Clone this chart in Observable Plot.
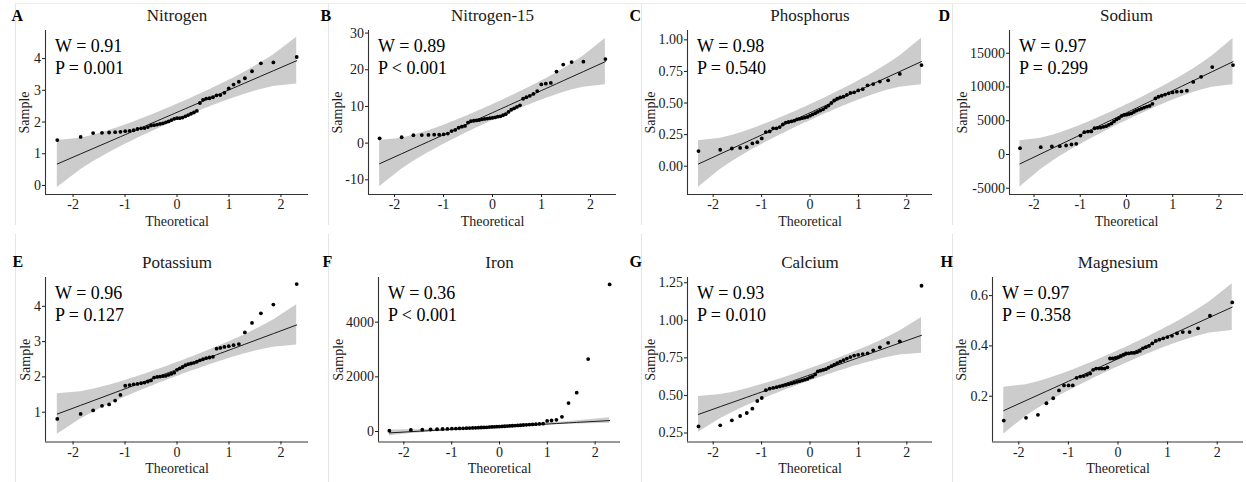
<!DOCTYPE html>
<html>
<head>
<meta charset="utf-8">
<script src="https://cdn.jsdelivr.net/npm/d3@7"></script>
<script src="https://cdn.jsdelivr.net/npm/@observablehq/plot@0.6"></script>
<style>
  html, body { margin: 0; padding: 0; background: #fff; }
  #wrap { position: relative; width: 1246px; height: 482px; overflow: hidden; font-family: "Liberation Serif", "Times New Roman", serif; }
  .border { position: absolute; border-left: 1px solid #e6e6e6; }
  .hborder { position: absolute; border-top: 1px solid #ececec; }
  #wrap svg { position: absolute; }
</style>
</head>
<body>
<div id="wrap"></div>
<script>
// ---------------- data ----------------
const letters = ["A", "B", "C", "D", "E", "F", "G", "H"];
const elements = ["Nitrogen", "Nitrogen-15", "Phosphorus", "Sodium", "Potassium", "Iron", "Calcium", "Magnesium"];
const wStats = ["0.91", "0.89", "0.98", "0.97", "0.96", "0.36", "0.93", "0.97"];
const pStats = ["= 0.001", "< 0.001", "= 0.540", "= 0.299", "= 0.127", "< 0.001", "= 0.010", "= 0.358"];
const yTicks = [
  [0, 1, 2, 3, 4],
  [-10, 0, 10, 20, 30],
  [0, 0.25, 0.5, 0.75, 1],
  [-5000, 0, 5000, 10000, 15000],
  [1, 2, 3, 4],
  [0, 2000, 4000],
  [0.25, 0.5, 0.75, 1, 1.25],
  [0.2, 0.4, 0.6]
];
const xTicks = [-2, -1, 0, 1, 2];

// theoretical normal quantiles (n = 47)
const theoretical = [-2.303,-1.854,-1.614,-1.443,-1.306,-1.190,-1.088,-0.996,-0.912,-0.834,-0.761,-0.691,-0.625,-0.561,-0.500,-0.441,-0.382,-0.326,-0.270,-0.215,-0.161,-0.107,-0.053,0,0.053,0.107,0.161,0.215,0.270,0.326,0.382,0.441,0.500,0.561,0.625,0.691,0.761,0.834,0.912,0.996,1.088,1.190,1.306,1.443,1.614,1.854,2.303];
// confidence band half-width, in units of the line slope
const bandFactor = [1.043,0.703,0.592,0.533,0.495,0.468,0.447,0.431,0.418,0.408,0.399,0.391,0.385,0.380,0.375,0.371,0.368,0.365,0.363,0.361,0.360,0.359,0.359,0.358,0.359,0.359,0.360,0.361,0.363,0.365,0.368,0.371,0.375,0.380,0.385,0.391,0.399,0.408,0.418,0.431,0.447,0.468,0.495,0.533,0.592,0.703,1.043];

const nitrogen = [1.43,1.53,1.65,1.66,1.67,1.68,1.69,1.71,1.72,1.74,1.78,1.80,1.81,1.84,1.89,1.90,1.92,1.94,1.96,1.99,2.02,2.06,2.10,2.12,2.12,2.14,2.18,2.22,2.26,2.30,2.35,2.60,2.70,2.74,2.75,2.78,2.84,2.85,2.92,3.06,3.18,3.27,3.38,3.60,3.85,3.88,4.05];
const nitrogen15 = [1.3,1.6,2.15,2.2,2.25,2.3,2.3,2.4,2.6,3.3,3.6,4.2,4.5,4.7,5.6,6.0,6.1,6.2,6.3,6.5,6.6,6.7,6.8,6.9,7.0,7.2,7.3,7.6,7.9,8.5,9.1,9.5,9.9,10.3,12.1,12.5,12.9,13.4,14.2,16.0,16.2,16.4,19.5,21.4,22.1,22.2,22.9];
const phosphorus = [0.12,0.13,0.14,0.145,0.15,0.18,0.19,0.22,0.27,0.275,0.30,0.30,0.31,0.33,0.345,0.35,0.355,0.36,0.37,0.375,0.38,0.385,0.39,0.40,0.41,0.42,0.43,0.44,0.45,0.465,0.48,0.50,0.52,0.535,0.545,0.55,0.565,0.58,0.585,0.60,0.61,0.64,0.65,0.67,0.68,0.73,0.80];
const sodium = [936,1084,1182,1232,1330,1478,1576,2808,3300,3400,3420,3890,3950,4000,4100,4200,4400,4600,4900,5200,5400,5700,5850,5900,6000,6100,6300,6500,6650,6800,6950,7100,7200,7500,8300,8550,8700,8870,9060,9200,9300,9350,9460,10750,11500,12950,13250];
const potassium = [0.81,0.95,1.05,1.18,1.22,1.33,1.49,1.75,1.77,1.79,1.80,1.82,1.84,1.87,1.90,1.98,2.00,2.01,2.02,2.03,2.06,2.09,2.12,2.20,2.24,2.28,2.33,2.36,2.38,2.40,2.43,2.47,2.50,2.53,2.55,2.57,2.80,2.82,2.85,2.87,2.90,2.93,3.26,3.53,3.80,4.05,4.63];
const iron = [32,58,66,74,83,91,96,102,108,111,117,121,126,131,134,139,146,149,154,161,166,170,176,181,186,192,198,204,211,216,223,229,238,244,252,259,268,279,287,388,402,428,536,1040,1420,2650,5380];
const calcium = [0.294,0.301,0.334,0.363,0.383,0.412,0.463,0.483,0.535,0.545,0.55,0.555,0.56,0.565,0.57,0.575,0.58,0.585,0.59,0.595,0.60,0.605,0.61,0.62,0.625,0.64,0.66,0.665,0.67,0.675,0.685,0.695,0.705,0.715,0.725,0.735,0.745,0.755,0.765,0.77,0.775,0.78,0.80,0.82,0.85,0.86,1.23];
const magnesium = [0.103,0.114,0.126,0.172,0.192,0.223,0.243,0.243,0.243,0.273,0.278,0.28,0.285,0.29,0.305,0.31,0.31,0.31,0.31,0.315,0.35,0.35,0.352,0.355,0.36,0.365,0.37,0.37,0.372,0.372,0.375,0.38,0.39,0.395,0.40,0.41,0.42,0.425,0.43,0.435,0.44,0.45,0.455,0.455,0.47,0.52,0.573];
const samples = [nitrogen, nitrogen15, phosphorus, sodium, potassium, iron, calcium, magnesium];

// reference line (qqline)
const lineIntercept = [2.305, 8.3, 0.423, 6180, 2.21, 175, 0.637, 0.3485];
const lineSlope = [0.707, 6.04, 0.176, 3287, 0.548, 98, 0.1143, 0.0893];

// ---------------- layout ----------------
const xDomain = [-2.53, 2.53];
const layout = [
  {left: 0,   top: 0,   width: 312, height: 240, axisX: 45,   rightX: 308,  plotTop: 30,  plotBottom: 194,   yDomain: [-0.285, 4.885], decimals: 0, sampleOff: 21, letterX: 11,  letterBase: 20},
  {left: 312, top: 0,   width: 310, height: 240, axisX: 368,  rightX: 616,  plotTop: 30,  plotBottom: 194,   yDomain: [-14, 30.7],     decimals: 0, sampleOff: 31, letterX: 320, letterBase: 20},
  {left: 622, top: 0,   width: 312, height: 240, axisX: 687,  rightX: 932,  plotTop: 30,  plotBottom: 194,   yDomain: [-0.224, 1.074], decimals: 2, sampleOff: 37, letterX: 629, letterBase: 20},
  {left: 934, top: 0,   width: 312, height: 240, axisX: 1009, rightX: 1243, plotTop: 30,  plotBottom: 194,   yDomain: [-5930, 18370],  decimals: 0, sampleOff: 47, letterX: 938, letterBase: 20},
  {left: 0,   top: 240, width: 312, height: 242, axisX: 45,   rightX: 308,  plotTop: 277, plotBottom: 441.5, yDomain: [0.156, 4.816],  decimals: 0, sampleOff: 20, letterX: 12,  letterBase: 266.5},
  {left: 312, top: 240, width: 310, height: 242, axisX: 378,  rightX: 620,  plotTop: 277, plotBottom: 441.5, yDomain: [-384, 5635],    decimals: 0, sampleOff: 40, letterX: 322, letterBase: 266.5},
  {left: 622, top: 240, width: 312, height: 242, axisX: 687,  rightX: 932,  plotTop: 277, plotBottom: 441.5, yDomain: [0.19, 1.285],   decimals: 2, sampleOff: 37, letterX: 629, letterBase: 266.5},
  {left: 934, top: 240, width: 312, height: 242, axisX: 992,  rightX: 1243, plotTop: 277, plotBottom: 441.5, yDomain: [0.018, 0.672],  decimals: 1, sampleOff: 31, letterX: 940, letterBase: 266.5}
];

const wrap = document.getElementById("wrap");

// faint panel borders
[15, 328, 641, 952].forEach(x => {
  const a = document.createElement("div");
  a.className = "border";
  a.style.left = x + "px"; a.style.top = "3px"; a.style.height = "222px";
  wrap.appendChild(a);
  const b = document.createElement("div");
  b.className = "border";
  b.style.left = x + "px"; b.style.top = "234px"; b.style.height = "248px";
  wrap.appendChild(b);
});
const hb = document.createElement("div");
hb.className = "hborder";
hb.style.left = "15px"; hb.style.top = "3px"; hb.style.width = "1231px";
wrap.appendChild(hb);

const font = '"Liberation Serif", "Times New Roman", serif';

layout.forEach((L, i) => {
  const slope = lineSlope[i], icpt = lineIntercept[i];
  const pts = theoretical.map((x, k) => ({x, y: samples[i][k]}));
  const band = theoretical.map((x, k) => {
    const fit = icpt + slope * x;
    const h = slope * bandFactor[k];
    return {x, fit, lo: fit - h, hi: fit + h};
  });
  const fmt = d => d.toFixed(L.decimals);

  const svg = Plot.plot({
    width: L.width,
    height: L.height,
    marginLeft: L.axisX - L.left,
    marginRight: L.left + L.width - L.rightX,
    marginTop: L.plotTop - L.top,
    marginBottom: L.top + L.height - L.plotBottom,
    x: {domain: xDomain},
    y: {domain: L.yDomain},
    style: {fontFamily: font, fontSize: "14px", color: "#1a1a1a", background: "transparent", overflow: "visible"},
    marks: [
      Plot.areaY(band, {x: "x", y1: "lo", y2: "hi", fill: "#cccccc"}),
      Plot.line(band, {x: "x", y: "fit", stroke: "#1a1a1a", strokeWidth: 1}),
      Plot.dot(pts, {x: "x", y: "y", r: 1.9, fill: "#000", stroke: null}),
      Plot.ruleX([xDomain[0]], {stroke: "#333", strokeWidth: 1.1}),
      Plot.ruleY([L.yDomain[0]], {stroke: "#333", strokeWidth: 1.1}),
      Plot.axisX({ticks: xTicks, tickSize: 3, tickPadding: 2, label: null, tickFormat: d => String(d)}),
      Plot.axisY({ticks: yTicks[i], tickSize: 3, tickPadding: 1.5, label: null, tickFormat: fmt}),
      Plot.text(["Theoretical"], {text: d => d, frameAnchor: "bottom", lineAnchor: "bottom", dy: L.top === 0 ? 31 : 30.5, fontSize: 14}),
      Plot.text(["Sample"], {text: d => d, frameAnchor: "left", textAnchor: "middle", lineAnchor: "middle", rotate: -90, dx: -L.sampleOff, fontSize: 14}),
      Plot.text([elements[i]], {text: d => d, frameAnchor: "top", lineAnchor: "bottom", dy: L.letterBase - L.plotTop + 0.5, fontSize: 17}),
      Plot.text([letters[i]], {text: d => d, frameAnchor: "top-left", textAnchor: "start", lineAnchor: "bottom", dx: L.letterX - L.axisX, dy: L.letterBase - L.plotTop, fontSize: 16, fontWeight: "bold", fill: "#000"}),
      Plot.text([`W = ${wStats[i]}\nP ${pStats[i]}`], {text: d => d, frameAnchor: "top-left", textAnchor: "start", lineAnchor: "top", dx: 9.5, dy: 6.2, fontSize: 18, lineHeight: 1.2, fill: "#000"})
    ]
  });
  svg.style.left = L.left + "px";
  svg.style.top = L.top + "px";
  wrap.appendChild(svg);
});
</script>
</body>
</html>
